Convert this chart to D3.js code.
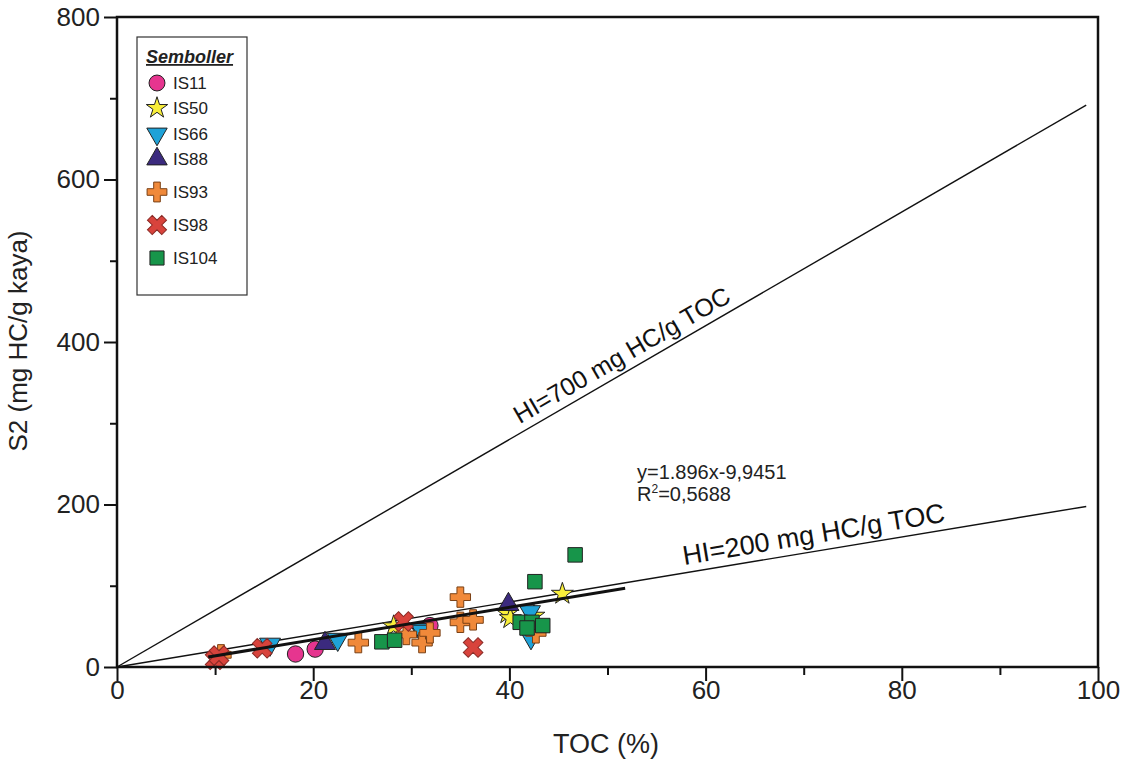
<!DOCTYPE html>
<html><head><meta charset="utf-8">
<script src="https://cdn.jsdelivr.net/npm/d3@7"></script>
<style>body{margin:0;background:#fff}svg{display:block;font-family:"Liberation Sans",Arial,sans-serif}</style>
</head><body><svg id="c" width="1129" height="760"></svg>
<script>
// ---- data ----
const seriesNames = ["IS11","IS50","IS66","IS88","IS93","IS98","IS104"];
const is11  = [[18.2,16],[20.2,22],[31.9,51]];
const is50  = [[28.2,50],[39.8,66],[40.1,60],[42.5,63],[45.4,90]];
const is66  = [[15.6,28],[22.5,34],[30.9,46],[31.1,44],[42.1,68],[42.2,36]];
const is88  = [[21.2,29],[39.9,77]];
const is93  = [[10.6,15],[24.6,30],[29.5,40],[31.1,30],[31.9,42],[35.0,86],[35.0,55],[36.3,58],[42.7,42]];
const is98  = [[10.0,9],[10.4,14],[14.8,23],[29.2,56],[36.3,24]];
const is104 = [[27.0,31],[28.3,33],[41.1,55],[42.3,55],[43.4,51],[41.8,48],[42.6,105],[46.7,138]];
const hiValues = [700, 200];
const hiLabels = ["HI=700 mg HC/g TOC", "HI=200 mg HC/g TOC"];
const hiEndToc = 98.8;
const regX = [9.3, 51.8];
const regY = [12.3, 97];
const eqText = "y=1.896x-9,9451";
const r2Text = "0,5688";
const xTicks = [0,20,40,60,80,100];
const yTicks = [0,200,400,600,800];

// ---- layout ----
const svg = d3.select("#c");
const x = d3.scaleLinear().domain([0,100]).range([117,1098]);
const y = d3.scaleLinear().domain([0,800]).range([667,17]);

const styles = {
  IS11:{type:"circle", fill:"#e6358f", size:210},
  IS50:{type:"star", fill:"#f8ee3a", size:150},
  IS66:{type:"down", fill:"#1fa2d8", size:190},
  IS88:{type:"up", fill:"#3b2a7e", size:190},
  IS93:{type:"plus", fill:"#f0893a", size:230},
  IS98:{type:"x", fill:"#d8433c", size:240},
  IS104:{type:"square", fill:"#17954a", size:210}
};
const dataBy = {IS11:is11, IS50:is50, IS66:is66, IS88:is88, IS93:is93, IS98:is98, IS104:is104};
const symTypes = {circle:d3.symbolCircle, star:d3.symbolStar, down:d3.symbolTriangle, up:d3.symbolTriangle,
    plus:d3.symbolCross, x:d3.symbolCross, square:d3.symbolSquare};

function symPath(st, k){ return d3.symbol().type(symTypes[st.type]).size(st.size*(k||1))(); }
function symRot(st){ return st.type==="down"?180:(st.type==="x"?45:0); }
function symStroke(st){ return st.type==="x"?"#8a2a25":(st.type==="plus"?"#7a4015":"#222"); }

// HI lines
hiValues.forEach(hi=>{
  svg.append("line").attr("x1",x(0)).attr("y1",y(0)).attr("x2",x(hiEndToc)).attr("y2",y(hi*hiEndToc/100))
    .attr("stroke","#111").attr("stroke-width",1.4);
});
// HI labels
const labelToc = [52.3, 71.3];
const labelSize = [25, 27];
hiValues.forEach((hi,i)=>{
  const px = x(labelToc[i]), py = y(hi*labelToc[i]/100);
  const ang = Math.atan2(y(hi)-y(0), x(100)-x(0))*180/Math.PI;
  svg.append("text").attr("transform",`translate(${px},${py}) rotate(${ang}) translate(0,-8)`)
    .attr("text-anchor","middle").attr("font-size",labelSize[i]).attr("fill","#111").text(hiLabels[i]);
});

// points
seriesNames.forEach(name=>{
  const st = styles[name];
  svg.append("g").selectAll("path").data(dataBy[name]).join("path")
    .attr("d", symPath(st))
    .attr("transform", d=>`translate(${x(d[0])},${y(d[1])}) rotate(${symRot(st)})`)
    .attr("fill", st.fill).attr("stroke", symStroke(st)).attr("stroke-width",1);
});

// regression line
svg.append("line").attr("x1",x(regX[0])).attr("y1",y(regY[0])).attr("x2",x(regX[1])).attr("y2",y(regY[1]))
  .attr("stroke","#111").attr("stroke-width",3);

// equation
svg.append("text").attr("x",637).attr("y",479).attr("font-size",20).attr("fill","#222").text(eqText);
const r2 = svg.append("text").attr("x",637).attr("y",501).attr("font-size",20).attr("fill","#222").text("R");
r2.append("tspan").attr("font-size",12).attr("dy",-8).text("2");
r2.append("tspan").attr("dy",8).text("=" + r2Text);

// frame
svg.append("rect").attr("x",x(0)).attr("y",y(800)).attr("width",x(100)-x(0)).attr("height",y(0)-y(800))
  .attr("fill","none").attr("stroke","#111").attr("stroke-width",2.5);

// axes
svg.append("g").attr("transform",`translate(0,${y(0)})`)
  .call(d3.axisBottom(x).tickValues(xTicks).tickSize(14).tickPadding(0).tickFormat(d3.format("d")));
svg.append("g").attr("transform",`translate(0,${y(0)})`)
  .call(d3.axisBottom(x).tickValues(d3.range(10,100,20)).tickSize(8).tickFormat(""));
svg.append("g").attr("transform",`translate(${x(0)},0)`)
  .call(d3.axisLeft(y).tickValues(yTicks).tickSize(13).tickPadding(4).tickFormat(d3.format("d")));
svg.append("g").attr("transform",`translate(${x(0)},0)`)
  .call(d3.axisLeft(y).tickValues(d3.range(100,800,200)).tickSize(7).tickFormat(""));
svg.selectAll(".domain").remove();
svg.selectAll(".tick line").attr("stroke","#111").attr("stroke-width",2);
svg.selectAll(".tick text").attr("font-size",26).attr("fill","#222").attr("font-family","Liberation Sans, Arial, sans-serif");

// axis titles
svg.append("text").attr("x",606).attr("y",753).attr("text-anchor","middle").attr("font-size",27).attr("fill","#222").text("TOC (%)");
svg.append("text").attr("transform","translate(27,341) rotate(-90)").attr("text-anchor","middle").attr("font-size",26).attr("fill","#222").text("S2 (mg HC/g kaya)");

// legend
const lg = svg.append("g");
lg.append("rect").attr("x",137).attr("y",37).attr("width",110).attr("height",258).attr("fill","#fff").attr("stroke","#333").attr("stroke-width",1.2);
lg.append("text").attr("x",146).attr("y",63).attr("font-size",18).attr("font-weight","bold").attr("font-style","italic")
  .attr("text-decoration","underline").attr("fill","#222").text("Semboller");
const legY = [83,108,134,159,192,225,258];
seriesNames.forEach((name,i)=>{
  const st = styles[name];
  lg.append("path").attr("d", symPath(st, 0.95))
    .attr("transform",`translate(157,${legY[i]}) rotate(${symRot(st)})`)
    .attr("fill",st.fill).attr("stroke",symStroke(st)).attr("stroke-width",1);
  lg.append("text").attr("x",173).attr("y",legY[i]+6).attr("font-size",17).attr("fill","#222").text(name);
});
</script></body></html>
